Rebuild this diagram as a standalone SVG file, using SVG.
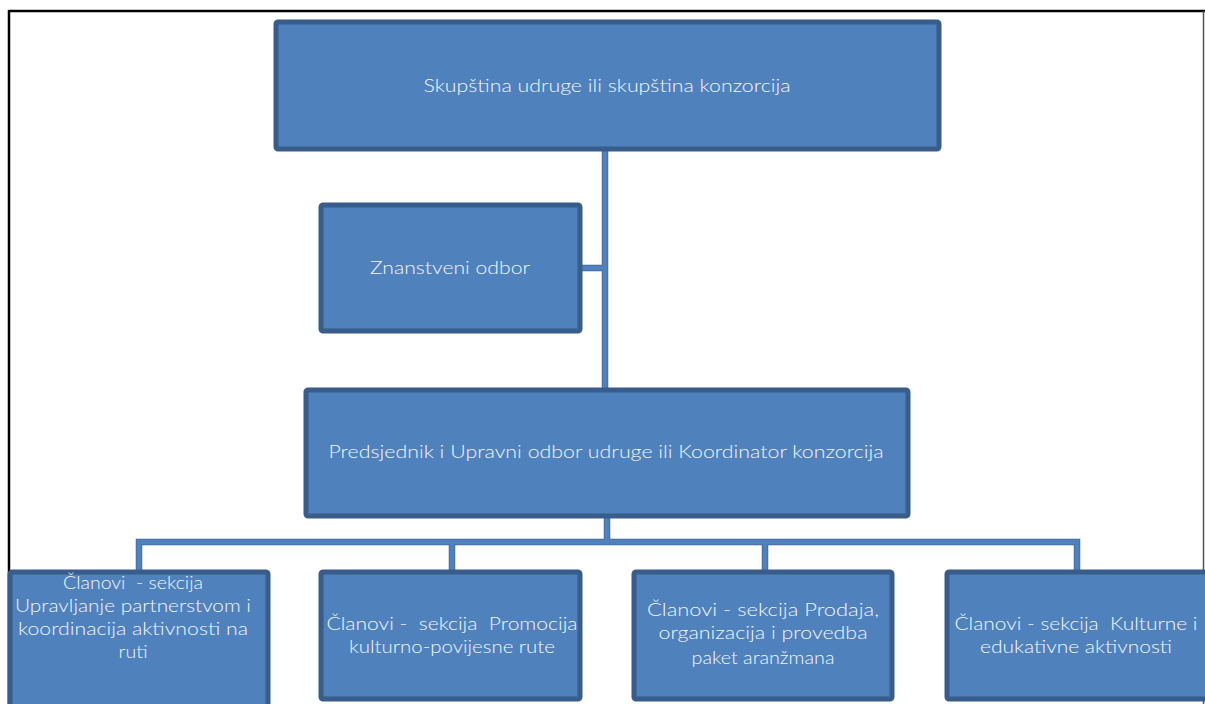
<svg xmlns="http://www.w3.org/2000/svg" width="1205" height="704" viewBox="0 0 1205 704">
<style>
.box{fill:#4f81bd;stroke:#385d8a;stroke-width:5;}
.t{font-family:Lato,"Open Sans","Liberation Sans",sans-serif;font-size:17.5px;font-weight:300;fill:#f4f7fb;text-anchor:middle;white-space:pre;}
.c{fill:none;stroke:#4f81bd;stroke-width:5;}
.cs{fill:none;stroke:#3d6596;stroke-width:6.5;}
</style>
<rect x="0" y="0" width="1205" height="704" fill="#ffffff"/>
<g id="frame">
<line x1="9" y1="11" x2="1205" y2="11" stroke="#000" stroke-width="2.5"/>
<line x1="9" y1="10" x2="9" y2="704" stroke="#000" stroke-width="2.5"/>
<line x1="1203.5" y1="11" x2="1203.5" y2="704" stroke="#555" stroke-width="1.5"/>
</g>
<g id="connectors">
<path class="cs" d="M605 150 V388 M582 268 H605 M607 517 V542 M139 570 V542 H1077 V570 M452 542 V570 M765 542 V570"/>
<path class="c" d="M605 150 V388 M582 268 H605 M607 517 V542 M139 570 V542 H1077 V570 M452 542 V570 M765 542 V570"/>
</g>
<g id="n-skupstina">
<rect class="box" x="276" y="22" width="663" height="127" rx="2"/>
<text class="t" x="607" y="92" textLength="367" lengthAdjust="spacingAndGlyphs">Skupština udruge ili skupština konzorcija</text>
</g>
<g id="n-znanstveni">
<rect class="box" x="321" y="205" width="259" height="126" rx="2"/>
<text class="t" x="450" y="274" textLength="160" lengthAdjust="spacingAndGlyphs">Znanstveni odbor</text>
</g>
<g id="n-predsjednik">
<rect class="box" x="306" y="390" width="602" height="126" rx="2"/>
<text class="t" x="606" y="458" textLength="555" lengthAdjust="spacingAndGlyphs">Predsjednik i Upravni odbor udruge ili Koordinator konzorcija</text>
</g>
<g id="n-sekcija1">
<rect class="box" x="10" y="572" width="258" height="140" rx="2"/>
<text class="t" x="133" y="589" textLength="140" lengthAdjust="spacingAndGlyphs">Članovi  - sekcija</text>
<text class="t" x="133" y="612" textLength="236" lengthAdjust="spacingAndGlyphs">Upravljanje partnerstvom i</text>
<text class="t" x="133" y="635" textLength="230" lengthAdjust="spacingAndGlyphs">koordinacija aktivnosti na</text>
<text class="t" x="133" y="658" textLength="29" lengthAdjust="spacingAndGlyphs">ruti</text>
</g>
<g id="n-sekcija2">
<rect class="box" x="321" y="572" width="259" height="127" rx="2"/>
<text class="t" x="452" y="630" textLength="251" lengthAdjust="spacingAndGlyphs">Članovi -  sekcija  Promocija</text>
<text class="t" x="452" y="653" textLength="206" lengthAdjust="spacingAndGlyphs">kulturno-povijesne rute</text>
</g>
<g id="n-sekcija3">
<rect class="box" x="634" y="572" width="258" height="127" rx="2"/>
<text class="t" x="763" y="616" textLength="232" lengthAdjust="spacingAndGlyphs">Članovi - sekcija Prodaja,</text>
<text class="t" x="763" y="639" textLength="209" lengthAdjust="spacingAndGlyphs">organizacija i provedba</text>
<text class="t" x="763" y="664" textLength="143" lengthAdjust="spacingAndGlyphs">paket aranžmana</text>
</g>
<g id="n-sekcija4">
<rect class="box" x="947" y="572" width="262" height="127" rx="2"/>
<text class="t" x="1076" y="630" textLength="243" lengthAdjust="spacingAndGlyphs">Članovi - sekcija  Kulturne i</text>
<text class="t" x="1076" y="653" textLength="192" lengthAdjust="spacingAndGlyphs">edukativne aktivnosti</text>
</g>
</svg>
